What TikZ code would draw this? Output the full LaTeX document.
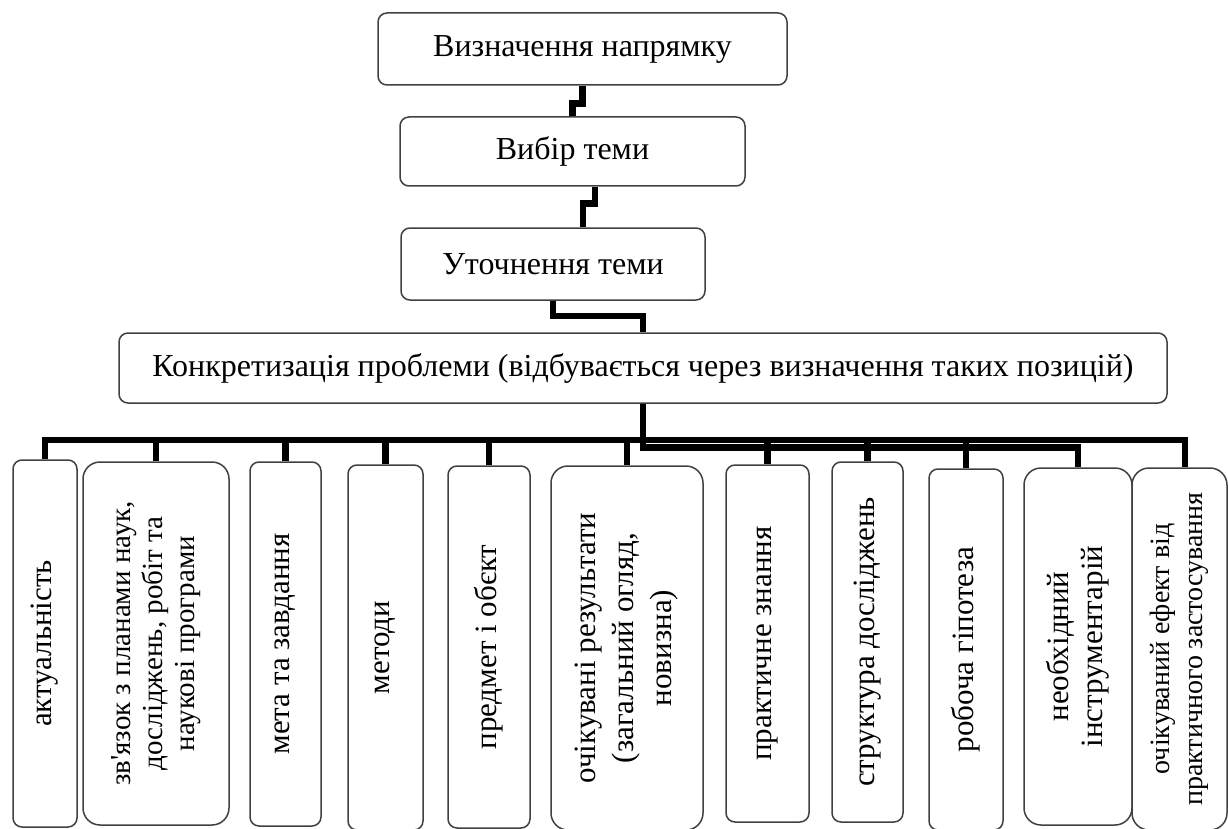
\documentclass[tikz,border=0pt]{standalone}
\usepackage{fontspec}
\setmainfont{Liberation Serif}
\usepackage{tikz}

\tikzset{
  stage/.style={draw=black!75, line width=1.5pt, rounded corners=9pt, inner sep=0pt,
    font=\fontsize{32}{38}\selectfont},
  item/.style={draw=black!75, line width=1.5pt, rounded corners=9pt, inner sep=0pt,
    rotate=90, align=center, font=\fontsize{31}{34}\selectfont},
  wide/.style={rounded corners=17pt},
  link/.style={line width=6.5pt, line join=miter},
}

\begin{document}
\begin{tikzpicture}[x=1pt,y=-1pt]
    \useasboundingbox (0,0) rectangle (1228,829);

    % Stages
    \node[stage, minimum width=409, minimum height=72] (t1) at (582.5,49) {Визначення напрямку};
    \node[stage, minimum width=345, minimum height=69] (t2) at (572.5,151.5) {Вибір теми};
    \node[stage, minimum width=304, minimum height=72] (t3) at (553,264) {Уточнення теми};
    \node[stage, minimum width=1048, minimum height=70] (t4) at (643,368)
      {Конкретизація проблеми (відбувається через визначення таких позицій)};

    % Links between stages
    \draw[link] (t1.south) -- ++(0,18) -| (t2.north);
    \draw[link] ([xshift=22.5pt]t2.south) -- ++(0,17) -| ([xshift=30pt]t3.north);
    \draw[link] (t3.south) -- ++(0,15) -| (t4.north);

    % Positions
    \node[item, minimum width=367, minimum height=64] (a1) at (45,643.5) {актуальність};
    \node[item, wide, minimum width=363, minimum height=146, font=\fontsize{29}{32}\selectfont]
      (a2) at (156,643.5)
      {зв\textquotesingle язок з планами наук,\\досліджень, робіт та\\наукові програми};
    \node[item, minimum width=364, minimum height=71] (a3) at (285.5,644) {мета та завдання};
    \node[item, minimum width=365, minimum height=75] (a4) at (385.5,647.5) {методи};
    \node[item, minimum width=362, minimum height=82] (a5) at (489,647) {предмет і обєкт};
    \node[item, wide, minimum width=364, minimum height=152, font=\fontsize{31}{38}\selectfont]
      (a6) at (627,648) {очікувані результати\\(загальний огляд,\\новизна)};
    \node[item, minimum width=357, minimum height=83] (a7) at (767.5,643.5) {практичне знання};
    \node[item, minimum width=360, minimum height=71] (a8) at (867.5,642) {структура досліджень};
    \node[item, minimum width=361, minimum height=74] (a9) at (966,649.5) {робоча гіпотеза};
    \node[item, wide, minimum width=357, minimum height=108] (a10) at (1078,646.5)
      {необхідний\\інструментарій};
    \node[item, wide, minimum width=362, minimum height=95, font=\fontsize{28}{33}\selectfont]
      (a11) at (1179.5,649) {очікуваний ефект від\\практичного застосування};

    % Bus
    \coordinate (busR) at (1185,440);
    \draw[link] (a1.east) |- (busR) -- (busR |- a11.east);
    \foreach \n in {2,...,9}
      \draw[link] (a\n.east) -- (a\n.east |- busR);
    \draw[link] (t4.south) -- ++(0,43.5) -| (a10.east);

\end{tikzpicture}
\end{document}
